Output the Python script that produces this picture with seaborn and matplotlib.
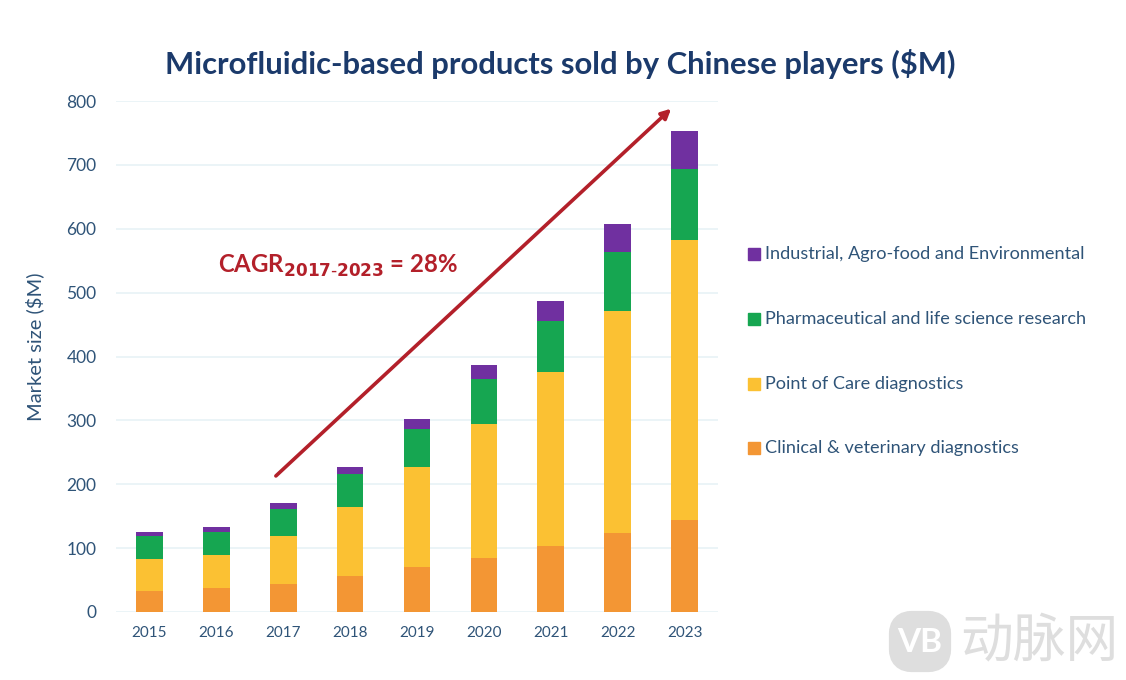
import numpy as np
import matplotlib
matplotlib.use("Agg")
import matplotlib.pyplot as plt
from matplotlib.patches import FancyBboxPatch
import seaborn as sns

years = ["2015", "2016", "2017", "2018", "2019", "2020", "2021", "2022", "2023"]
clinical = [33, 37, 44, 56, 70, 85, 103, 123, 144]
poc = [50, 52, 75, 109, 157, 210, 273, 349, 438]
pharma = [36, 37, 43, 51, 60, 69, 79, 92, 111]
industrial = [6, 7, 8, 11, 15, 22, 32, 44, 60]
series_names = ["Clinical & veterinary diagnostics", "Point of Care diagnostics",
                "Pharmaceutical and life science research",
                "Industrial, Agro-food and Environmental"]
colors = ["#F39634", "#FBC133", "#16A651", "#7030A0"]
navy = "#1B3A6B"
blue_text = "#2F5478"

sns.set_theme(style="white")
plt.rcParams['font.family'] = ['Lato', 'DejaVu Sans']

fig = plt.figure(figsize=(11.26, 6.8), dpi=100)
ax = fig.add_axes([116 / 1126, 1 - 612 / 680, (718 - 116) / 1126, (612 - 101) / 680])

# stack by drawing cumulative totals, tallest first
cum = np.cumsum([clinical, poc, pharma, industrial], axis=0)
for i in range(3, -1, -1):
    sns.barplot(x=years, y=cum[i], color=colors[i], ax=ax, width=0.4, saturation=1, linewidth=0)

ax.set_ylim(0, 800)
ax.set_xlim(-0.5, 8.5)
ax.set_yticks(range(0, 801, 100))
ax.grid(axis="y", color="#E8F2F6", lw=1.2)
ax.set_axisbelow(True)
ax.tick_params(axis="y", labelsize=12.5, labelcolor=blue_text, length=0, pad=14)
ax.tick_params(axis="x", labelsize=11, labelcolor=blue_text, length=0, pad=10)
ax.set_ylabel("")
sns.despine(ax=ax, left=True, bottom=True)

fig.text(35 / 1126, 1 - 347 / 680, "Market size ($M)", rotation=90, ha="center", va="center",
         fontsize=14.5, color=blue_text)
fig.text(560 / 1126, 1 - 64 / 680, "Microfluidic-based products sold by Chinese players ($M)",
         ha="center", va="center", fontsize=22.3, fontweight="bold", color=navy)

ax.annotate("", xy=(7.8, 788), xytext=(1.89, 213),
            arrowprops=dict(arrowstyle="-|>", color="#B3202A", lw=2.6, mutation_scale=14,
                            shrinkA=0, shrinkB=0))
fig.text(218 / 1126, 1 - 266 / 680, "CAGR$_{\\mathbf{2017\\text{-}2023}}$ = 28%",
         ha="left", va="center", fontsize=17.3, fontweight="bold", color="#B3202A")

# legend, top entry is the top of the stack
leg_y = [448, 384, 319, 254]
for name, c, y in zip(series_names, colors, leg_y):
    fig.patches.append(plt.Rectangle((748 / 1126, 1 - (y + 6) / 680), 12 / 1126, 12 / 680,
                                     transform=fig.transFigure, color=c))
    fig.text(765 / 1126, 1 - y / 680, name, ha="left", va="center", fontsize=13.1, color=blue_text)

# watermark
fig.patches.append(FancyBboxPatch((900, 680 - 661), 40, 39, boxstyle="round,pad=0,rounding_size=12",
                                  mutation_aspect=1, transform=None, fc="#DEDEDE", ec="#DEDEDE", lw=16))
fig.text(920 / 1126, 1 - 642 / 680, "VB", ha="center", va="center", fontsize=24, fontweight="bold",
         color="white")
fig.text(1039 / 1126, 1 - 642 / 680, "动脉网", ha="center", va="center", fontsize=38,
         color="#DEDEDE", family=["Noto Sans CJK SC", "DejaVu Sans"])

fig.savefig("out.png", dpi=100)
